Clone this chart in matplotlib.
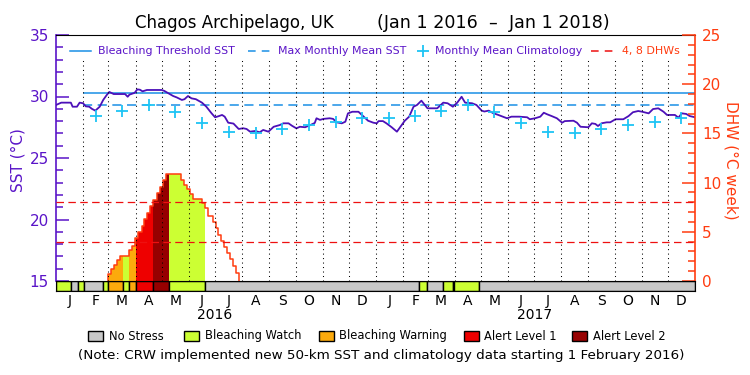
import numpy as np
import matplotlib
matplotlib.use('Agg')
import matplotlib.pyplot as plt
from matplotlib.ticker import MultipleLocator
from matplotlib.patches import Rectangle
from matplotlib.lines import Line2D

plt.rcParams['font.family'] = 'DejaVu Sans'

# ---- data (day = days since 1 Jan 2016) ----
sst_day = [0, 6, 17, 19, 24, 27, 31, 34, 38, 41, 45, 50, 54, 58, 61, 66, 79, 82, 84, 90,
           93, 96, 99, 104, 121, 124, 130, 134, 138, 144, 147, 151, 155, 160, 167, 172, 178,
           182, 186, 190, 193, 197, 203, 209, 214, 218, 222, 228, 233, 237, 243, 249, 256,
           260, 266, 270, 275, 279, 285, 291, 296, 298, 302, 306, 313, 317, 321, 327, 331,
           334, 339, 346, 352, 357, 363, 367, 369, 374, 378, 384, 390, 394, 399, 404, 409,
           413, 418, 422, 425, 436, 439, 443, 448, 454, 459, 464, 468, 476, 481, 487, 490,
           495, 500, 506, 516, 521, 530, 539, 542, 548, 554, 558, 562, 567, 573, 579, 582,
           592, 596, 600, 609, 613, 617, 620, 624, 630, 634, 640, 649, 655, 660, 666, 670,
           678, 683, 689, 695, 699, 708, 712, 716, 721, 725, 731]
sst_val = [29.31, 29.50, 29.50, 29.17, 29.17, 29.50, 29.45, 29.20, 29.17, 29.00, 28.85, 29.17,
           29.72, 30.12, 30.37, 30.20, 30.20, 29.98, 30.15, 30.30, 30.58, 30.55, 30.42, 30.53,
           30.53, 30.45, 30.20, 30.04, 29.93, 29.72, 29.78, 30.04, 29.85, 29.78, 29.50, 29.17,
           28.63, 28.31, 28.40, 28.50, 28.36, 27.87, 27.80, 27.36, 27.42, 27.36, 27.14, 27.20,
           27.09, 27.28, 27.14, 27.54, 27.68, 27.82, 27.82, 27.62, 27.41, 27.54, 27.50, 27.68,
           27.85, 28.23, 28.10, 28.18, 28.23, 28.18, 27.90, 27.82, 27.95, 28.63, 28.76, 28.76,
           28.36, 28.03, 27.87, 27.82, 28.00, 28.00, 27.82, 27.50, 27.14, 27.54, 28.03, 28.36,
           29.17, 29.31, 29.66, 29.31, 29.04, 29.04, 29.23, 29.50, 29.45, 29.17, 29.50, 29.98,
           29.50, 29.45, 29.31, 28.85, 28.78, 28.85, 28.65, 28.50, 28.23, 28.36, 28.36, 28.31,
           28.15, 28.23, 28.36, 28.68, 28.55, 28.41, 28.23, 27.87, 28.00, 28.03, 27.87, 27.54,
           27.50, 27.82, 27.77, 27.60, 27.82, 27.90, 27.90, 28.15, 28.15, 28.41, 28.72, 28.82,
           28.77, 28.63, 28.98, 29.04, 28.76, 28.50, 28.50, 28.28, 28.63, 28.58, 28.41, 28.31]

# monthly mean climatology, Jan..Dec
clim_val = [28.22, 28.41, 28.85, 29.27, 28.72, 27.82, 27.14, 27.06, 27.33, 27.66, 27.95, 28.28]
mmm_sst = 29.3
threshold_sst = 30.3
new_data_day = 31  # 1 Feb 2016

dhw_day = [0, 60, 63, 66.4, 69.4, 73.2, 84, 86.6, 90.4, 94.2, 98, 101, 104.5, 107.5, 111.3,
           115.2, 119, 122.8, 125.5, 143, 146.8, 149.5, 153.3, 157.1, 167.4, 171, 173.5,
           179.3, 182.7, 185.7, 188.8, 192.2, 195.3, 199.1, 202.1, 205.6, 209.4]
dhw_val = [0, 0.68, 1.19, 1.63, 2.13, 2.57, 3.15, 3.59, 4.40, 5.01, 5.59, 6.27, 6.88, 7.62,
           8.23, 8.91, 9.52, 10.26, 10.84, 10.26, 9.76, 9.32, 8.81, 8.30, 7.96, 7.38, 6.60,
           6.03, 5.35, 4.67, 4.06, 3.42, 2.81, 2.20, 1.52, 0.78, 0]
dhw_levels = [4, 8]

stress_edges = [0, 17.2, 24.6, 31.5, 53.4, 60, 77, 84, 91.1, 111.5, 129.8, 171, 415, 424.4,
                442.5, 453.6, 455.5, 484.1, 731]
stress_level = [1, 0, 1, 0, 1, 2, 1, 2, 3, 4, 1, 0, 1, 0, 1, 0, 1, 0]

level_names = ['No Stress', 'Bleaching Watch', 'Bleaching Warning', 'Alert Level 1', 'Alert Level 2']
level_colors = ['#c8c8c8', '#ccff33', '#fcaa0c', '#ee0000', '#960000']
month_letters = list('JFMAMJJASOND') * 2
years = ['2016', '2017']

# colours
sst_col = '#4c10b8'
txt_col = '#5a14c8'
thr_col = '#1a8fe6'
clim_col = '#1ec4f5'
dhw_col = '#ff3c10'

# month boundaries in days
month_start = (np.arange('2016-01', '2018-02', dtype='datetime64[M]').astype('datetime64[D]')
               - np.datetime64('2016-01-01')).astype(int)
month_mid = (month_start[:-1] + month_start[1:]) / 2
year_mid = [month_start[6], month_start[18]]
x_end = month_start[-1]

fig = plt.figure(figsize=(7.5, 3.75), dpi=100)
W, H = 750, 375
ax = fig.add_axes([56 / W, 1 - 281 / H, 639 / W, 246 / H])
ax2 = ax.twinx()
axb = fig.add_axes([56 / W, 1 - 291 / H, 639 / W, 10 / H])

ax.set_xlim(0, x_end)
ax.set_ylim(15, 35)
ax2.set_ylim(0, 25)

# SST
ax.plot(sst_day, sst_val, color=sst_col, lw=1.3, zorder=3)
ax.hlines(threshold_sst, new_data_day, x_end, color=thr_col, lw=1.1)
ax.hlines(mmm_sst, new_data_day, x_end, color=thr_col, lw=1.1, linestyles=(0, (6, 3.6)))
clim_x = month_mid[1:]
clim_y = [clim_val[m % 12] for m in range(1, len(month_mid))]
ax.plot(clim_x, clim_y, '+', color=clim_col, ms=9, mew=1.3, zorder=4)

# DHW fills by stress level
dd = np.array(dhw_day)
dv = np.array(dhw_val)
def dhw_at(x):
    return dv[np.searchsorted(dd, x, side='right') - 1]

for i, lev in enumerate(stress_level):
    if lev == 0:
        continue
    s, e = stress_edges[i], stress_edges[i + 1]
    xs = np.concatenate([[s], dd[(dd > s) & (dd < e)], [e]])
    ax2.fill_between(xs, 0, dhw_at(xs), step='post', color=level_colors[lev], lw=0, zorder=1)

sx = np.repeat(dd, 2)[1:]
sy = np.repeat(dv, 2)[:-1]
ax2.plot(sx[1:], sy[1:], color=dhw_col, lw=1.1, zorder=2)
ax2.hlines(dhw_levels, 0, x_end, color='#ee1010', lw=0.9, linestyles=(0, (6, 3.5)), zorder=3)

for d in month_start[1:-1]:
    ax2.axvline(d, ymin=0, ymax=0.9, color='black', lw=0.75, ls=(0, (1, 3.3)), zorder=2.5)

# stress bar
for i, lev in enumerate(stress_level):
    s, e = stress_edges[i], stress_edges[i + 1]
    axb.add_patch(Rectangle((s, 0), e - s, 1, facecolor=level_colors[lev],
                            edgecolor='black', lw=1.0))
axb.set_xlim(0, x_end)
axb.set_ylim(0, 1)
axb.set_yticks([])
axb.set_xticks(month_mid, month_letters)
axb.set_xticks(year_mid, years, minor=True)
axb.tick_params(axis='x', which='major', length=0, pad=2, labelsize=10)
axb.tick_params(axis='x', which='minor', length=0, pad=12, labelsize=10)
for sp in axb.spines.values():
    sp.set_color('black')

# axes styling
ax.set_xticks([])
ax.spines['bottom'].set_visible(False)
ax.spines['right'].set_visible(False)
ax.spines['left'].set_color(txt_col)
ax.spines['left'].set_linewidth(1.2)
ax.spines['top'].set_color('black')
ax.set_yticks([15, 20, 25, 30, 35])
ax.yaxis.set_minor_locator(MultipleLocator(1))
ax.tick_params(axis='y', which='major', direction='in', length=9.5, width=1.1,
               colors=txt_col, labelsize=11, pad=5)
ax.tick_params(axis='y', which='minor', direction='in', length=5, width=1.1, colors=txt_col)

for k in ['left', 'top', 'bottom']:
    ax2.spines[k].set_visible(False)
ax2.spines['right'].set_color(dhw_col)
ax2.spines['right'].set_linewidth(1.2)
ax2.set_yticks([0, 5, 10, 15, 20, 25])
ax2.yaxis.set_minor_locator(MultipleLocator(1))
ax2.tick_params(axis='y', which='major', direction='in', length=9.5, width=1.1,
                colors=dhw_col, labelsize=11, pad=5)
ax2.tick_params(axis='y', which='minor', direction='in', length=5, width=1.1, colors=dhw_col)

fig.text(18 / W, 1 - 160 / H, 'SST (\u00b0C)', rotation=90, color=txt_col, fontsize=11,
         ha='center', va='center')
fig.text(731 / W, 1 - 160 / H, 'DHW (\u00b0C week)', rotation=270, color=dhw_col, fontsize=11,
         ha='center', va='center')

# title
fig.text(334 / W, 1 - 23 / H, 'Chagos Archipelago, UK', ha='right', va='center', fontsize=12)
fig.text(377 / W, 1 - 23 / H, '(Jan 1 2016  \u2013  Jan 1 2018)', ha='left', va='center',
         fontsize=12.6)

# top legend (axes fraction)
ly = (281 - 51) / 246
def fx(px):
    return (px - 56) / 639
tr = ax.transAxes
lfs = 7.9
ax.add_line(Line2D([fx(70), fx(91)], [ly, ly], transform=tr, color=thr_col, lw=1.1))
ax.text(fx(98), ly, 'Bleaching Threshold SST', transform=tr, color=txt_col, fontsize=lfs, va='center')
ax.add_line(Line2D([fx(248), fx(272)], [ly, ly], transform=tr, color=thr_col, lw=1.1,
                   ls=(0, (5, 4))))
ax.text(fx(278), ly, 'Max Monthly Mean SST', transform=tr, color=txt_col, fontsize=lfs, va='center')
ax.add_line(Line2D([fx(423)], [ly], transform=tr, color=clim_col, marker='+', ms=8, mew=1.3))
ax.text(fx(435), ly, 'Monthly Mean Climatology', transform=tr, color=txt_col, fontsize=lfs, va='center')
ax.add_line(Line2D([fx(591), fx(615)], [ly, ly], transform=tr, color='#ee1010', lw=1.1,
                   ls=(0, (5, 4))))
ax.text(fx(622), ly, '4, 8 DHWs', transform=tr, color=dhw_col, fontsize=lfs, va='center')

# bottom legend
box_x = [88, 184, 319, 464, 572]
text_x = [109, 205, 339, 484, 593]
for bx, tx, name, col in zip(box_x, text_x, level_names, level_colors):
    fig.patches.append(Rectangle((bx / W, 1 - 341 / H), 15 / W, 10 / H, facecolor=col,
                                 edgecolor='black', lw=1, transform=fig.transFigure))
    fig.text(tx / W, 1 - 336 / H, name, ha='left', va='center', fontsize=8.3)
fig.text(381 / W, 1 - 356 / H,
         '(Note: CRW implemented new 50-km SST and climatology data starting 1 February 2016)',
         ha='center', va='center', fontsize=9.7)

fig.savefig('out.png', dpi=100)
